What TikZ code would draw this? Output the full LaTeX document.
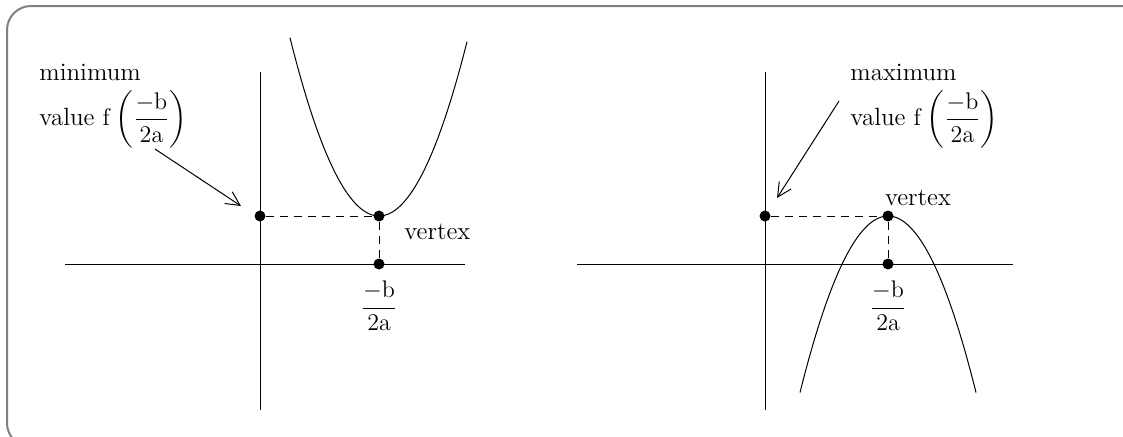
\documentclass[tikz,border=0pt]{standalone}
\usepackage{amsmath}
\usetikzlibrary{arrows.meta}
\begin{document}
\begin{tikzpicture}[x=0.5pt,y=-0.5pt,
  axis/.style={line width=0.5pt},
  guide/.style={line width=0.5pt,dashed,dash pattern=on 4pt off 3pt},
  curve/.style={line width=0.5pt},
  dot/.style={circle,fill=black,inner sep=0pt,minimum size=5.5pt},
  lbl/.style={font=\fontsize{12.5}{15.5}\selectfont,inner sep=0pt},
  pointer/.style={line width=0.5pt,-{Straight Barb[length=7pt,width=7pt]}}]
\useasboundingbox (0,0) rectangle (1123,436);
\begin{scope}
\clip (0,0) rectangle (1123,436);
\draw[gray,line width=1pt,rounded corners=12pt] (7,6) rectangle (1160,447);
\end{scope}
% ---------- left graph ----------
\coordinate (xl1) at (65,264); \coordinate (xl2) at (465,264);
\coordinate (yl1) at (260,72); \coordinate (yl2) at (260,410);
\draw[axis] (xl1) -- (xl2);
\draw[axis] (yl1) -- (yl2);
\draw[curve] plot[domain=290:467,samples=80,smooth] (\x,{216-0.0225*(\x-379)*(\x-379)});
\node[dot] (yminL) at (260,216) {};
\node[dot] (vL) at (379,216) {};
\node[dot] (hL) at (379,264) {};
\draw[guide] (yminL) -- (vL);
\draw[guide] (vL) -- (hL);
\node[lbl,anchor=west] (vtxL) at (404,232) {vertex};
\node[lbl] (fracL) at (379,306) {$\dfrac{-\mathrm{b}}{2\mathrm{a}}$};
\node[lbl,anchor=north west,align=left] (minL) at (39,64) {minimum\\[4pt]value $\mathrm{f}\left(\dfrac{-\mathrm{b}}{2\mathrm{a}}\right)$};
\coordinate (aLs) at (155,149);
\draw[pointer] (aLs) -- (241,206);
% ---------- right graph ----------
\coordinate (xr1) at (577,264); \coordinate (xr2) at (1013,264);
\coordinate (yr1) at (765,72); \coordinate (yr2) at (765,410);
\draw[axis] (xr1) -- (xr2);
\draw[axis] (yr1) -- (yr2);
\draw[curve] plot[domain=800:976,samples=80,smooth] (\x,{216+0.0228*(\x-888)*(\x-888)});
\node[dot] (ymaxR) at (765,216) {};
\node[dot] (vR) at (888,216) {};
\node[dot] (hR) at (888,264) {};
\draw[guide] (ymaxR) -- (vR);
\draw[guide] (vR) -- (hR);
\node[lbl] (vtxR) at (918,198) {vertex};
\node[lbl] (fracR) at (888,306) {$\dfrac{-\mathrm{b}}{2\mathrm{a}}$};
\node[lbl,anchor=north west,align=left] (maxR) at (850,64) {maximum\\[4pt]value $\mathrm{f}\left(\dfrac{-\mathrm{b}}{2\mathrm{a}}\right)$};
\coordinate (aRs) at (839,101);
\draw[pointer] (aRs) -- (777,198);
\end{tikzpicture}
\end{document}
